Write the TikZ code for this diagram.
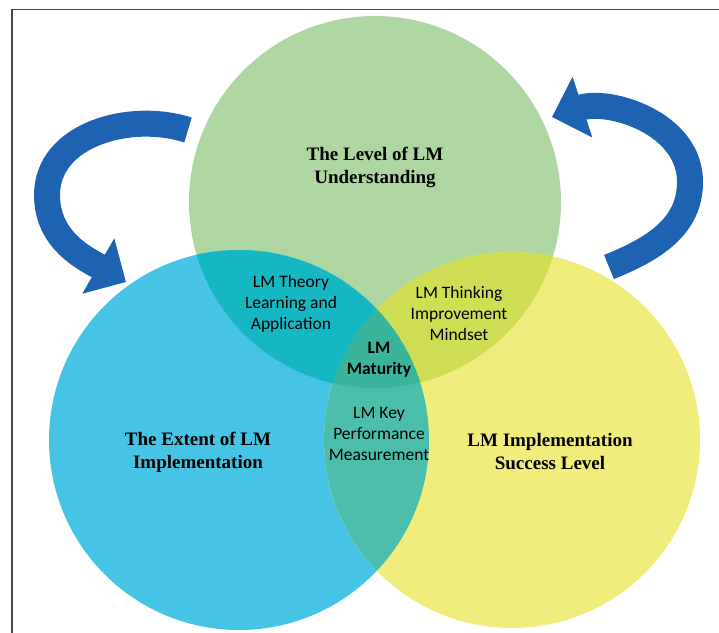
\documentclass[tikz,border=0pt]{standalone}
\usepackage{fontspec}
\setmainfont{Liberation Serif}
\newfontfamily\calibfont{Carlito}
\usetikzlibrary{arrows.meta}
\definecolor{grn}{RGB}{174,214,160}
\definecolor{blu}{RGB}{70,196,230}
\definecolor{yel}{RGB}{240,237,125}
\definecolor{bgmix}{RGB}{20,183,194}
\definecolor{gymix}{RGB}{206,221,82}
\definecolor{bymix}{RGB}{74,190,170}
\definecolor{ctrmix}{RGB}{58,181,156}
\definecolor{arrowblue}{RGB}{30,98,178}
\definecolor{framegray}{RGB}{70,70,70}
\tikzset{
  title/.style={font=\fontsize{19}{23}\selectfont\bfseries, align=center},
  lbl/.style={font=\calibfont\fontsize{17.5}{21}\selectfont, align=center},
  bendarrow/.style={line width=26pt, draw=arrowblue, -{Triangle[length=32pt,width=62pt]}}
}
\begin{document}
\begin{tikzpicture}[x=1pt,y=1pt]
\clip (0,-632) rectangle (719,0);
\coordinate (G) at (375,-202);
\coordinate (B) at (239,-440);
\coordinate (Y) at (512,-440);
\coordinate (ltail) at (188,-130);
\coordinate (lside) at (47,-195);
\coordinate (ltip) at (126,-282);
\coordinate (rtail) at (609,-267);
\coordinate (rside) at (690,-182);
\coordinate (rtip) at (552,-117);
\draw[line width=1.4pt, framegray] (12,-640) -- (12,-9.5) -- (730,-9.5);
\fill[grn] (G) circle (186pt);
\fill[blu] (B) circle (190pt);
\fill[yel] (Y) circle (188pt);
\begin{scope}
\clip (G) circle (186pt);
\fill[gymix] (Y) circle (188pt);
\end{scope}
\begin{scope}
\clip (B) circle (190pt);
\fill[bgmix] (G) circle (186pt);
\fill[bymix] (Y) circle (188pt);
\clip (G) circle (186pt);
\fill[ctrmix] (Y) circle (188pt);
\end{scope}
\draw[bendarrow] (ltail) to[out=162,in=90] (lside) to[out=-90,in=150] (ltip);
\draw[bendarrow] (rtail) to[out=22,in=-90] (rside) to[out=90,in=18] (rtip);
\node[title] (undst) at (375,-167) {The Level of LM\\Understanding};
\node[title] (extent) at (198,-452) {The Extent of LM\\Implementation};
\node[title] (success) at (550,-452) {LM Implementation\\Success Level};
\node[lbl] (theory) at (291,-304) {LM Theory\\Learning and\\Application};
\node[lbl] (thinking) at (459,-313) {LM Thinking\\Improvement\\Mindset};
\node[lbl, font=\calibfont\fontsize{17.5}{21}\selectfont\bfseries] (maturity) at (379,-360) {LM\\Maturity};
\node[lbl] (keyperf) at (379,-434) {LM Key\\Performance\\Measurement};
\end{tikzpicture}
\end{document}
